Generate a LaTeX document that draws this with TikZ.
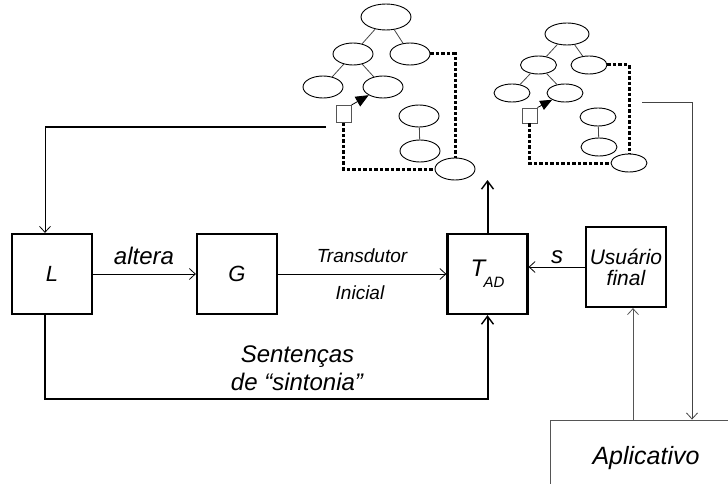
\documentclass[tikz,border=0pt]{standalone}
\usepackage{fontspec}
\setmainfont{Liberation Sans}
\usetikzlibrary{arrows.meta,shapes.geometric}
\definecolor{edgegray}{HTML}{444444}
\definecolor{boxgray}{HTML}{555555}

\begin{document}
\begin{tikzpicture}[x=1pt,y=-1pt,
  blk/.style={draw, line width=2.2pt, minimum width=80pt, minimum height=80pt,
    inner sep=0pt, font=\fontsize{22}{22}\selectfont\itshape},
  lbl/.style={inner sep=0pt, anchor=base, font=\fontsize{24}{28}\selectfont\itshape},
  small/.style={inner sep=0pt, anchor=base, font=\fontsize{19}{19}\selectfont\itshape},
  thinarr/.style={line width=0.8pt, -{Straight Barb[length=6pt,width=11pt,line width=0.8pt]}},
  thickarr/.style={line width=2pt, -{Straight Barb[length=8pt,width=12pt,line width=1.4pt]}},
  tn/.style={draw, ellipse, line width=0.9pt, minimum width=40pt, minimum height=22pt, inner sep=0pt},
  tns/.style={tn, minimum width=36pt, minimum height=18pt},
  tedge/.style={draw=edgegray, line width=0.8pt},
  mark box/.style={draw=boxgray, line width=0.9pt, fill=white, minimum width=15pt, minimum height=17pt, inner sep=0pt},
  dots/.style={line width=3pt, dash pattern=on 3.3pt off 2.2pt},
  pointer/.style={line width=0.8pt, -{Triangle[length=13pt,width=11pt]}},
]
\clip (0,0) rectangle (728,484);

% ---------- first derivation tree ----------
\node[tn, minimum width=50pt, minimum height=26pt] (a1) at (386,17) {};
\node[tn] (b1) at (353,54) {};
\node[tn] (c1) at (410,54) {};
\node[tn] (d1) at (323,87) {};
\node[tn] (e1) at (383,87) {};
\node[tn] (f1) at (419,116) {};
\node[tn] (g1) at (420,151) {};
\node[tn] (h1) at (455,169) {};
\node[mark box] (r1) at (343.5,114) {};
\path[tedge] (a1) -- (b1) (a1) -- (c1) (b1) -- (d1) (b1) -- (e1) (f1) -- (g1);
\draw[dots] (c1.east) -| (h1.north);
\draw[dots] (r1.south) |- (h1.west);
\draw[pointer] (r1.north east) -- (e1);

% ---------- second derivation tree ----------
\node[tns, minimum width=44pt, minimum height=22pt] (a2) at (567,34) {};
\node[tns] (b2) at (538.5,65) {};
\node[tns] (c2) at (589,65) {};
\node[tns] (d2) at (512,93) {};
\node[tns] (e2) at (565,93) {};
\node[tns] (f2) at (598,117) {};
\node[tns] (g2) at (599,147) {};
\node[tns] (h2) at (629,163) {};
\node[mark box, minimum height=15pt] (r2) at (529.5,115.5) {};
\path[tedge] (a2) -- (b2) (a2) -- (c2) (b2) -- (d2) (b2) -- (e2) (f2) -- (g2);
\draw[dots] (c2.east) -| (h2.north);
\draw[dots] (r2.south) |- (h2.west);
\draw[pointer, -{Triangle[length=12pt,width=10pt]}] (r2.north east) -- (e2);

% ---------- blocks ----------
\node[blk] (L) at (52,274) {L};
\node[blk] (G) at (237,274) {G};
\node[blk, font=\fontsize{24}{24}\selectfont\itshape] (T) at (487.5,274)
  {T\kern-1.5pt\raisebox{-11pt}{\fontsize{15}{15}\selectfont AD}};
\node[blk, align=center, font=\fontsize{21}{21}\selectfont\itshape] (U) at (626,267)
  {Usuário\\final};
\node[draw=boxgray, line width=0.9pt, minimum width=192pt, minimum height=76pt,
  inner sep=0pt, font=\fontsize{25}{25}\selectfont\itshape] (A) at (646,458) {Aplicativo};

% ---------- connectors ----------
\coordinate (lx) at (45,0);
\coordinate (lf) at (326,127);
\coordinate (sb) at (487.5,399);
\coordinate (tu) at (487.5,180);
\coordinate (ax) at (633,0);
\coordinate (rf) at (642,102);
\coordinate (rx) at (692,0);

\draw[line width=2pt] (lf) -- (lf -| lx);
\draw[thinarr] (lf -| lx) -- (L.north -| lx);
\draw[thinarr] (L) -- (G);
\draw[thinarr] (G) -- (T);
\draw[thickarr] (L.south -| lx) |- (sb) -- (T);
\draw[thickarr] (T) -- (tu);
\draw[thinarr] (U.west) -- (U.west -| T.east);
\draw[thinarr, draw=boxgray] (A.north -| ax) -- (U.south -| ax);
\draw[thinarr, draw=edgegray] (rf) -| (A.north -| rx);

% ---------- labels ----------
\node[lbl] (altera) at (144,264) {altera};
\node[small] (trans) at (362,262) {Transdutor};
\node[small] (inic) at (360,299) {Inicial};
\node[lbl] (s) at (557,263) {s};
\node[lbl] (sent1) at (297.5,362) {Sentenças};
\node[lbl] (sent2) at (297,390) {de “sintonia”};
\end{tikzpicture}
\end{document}
